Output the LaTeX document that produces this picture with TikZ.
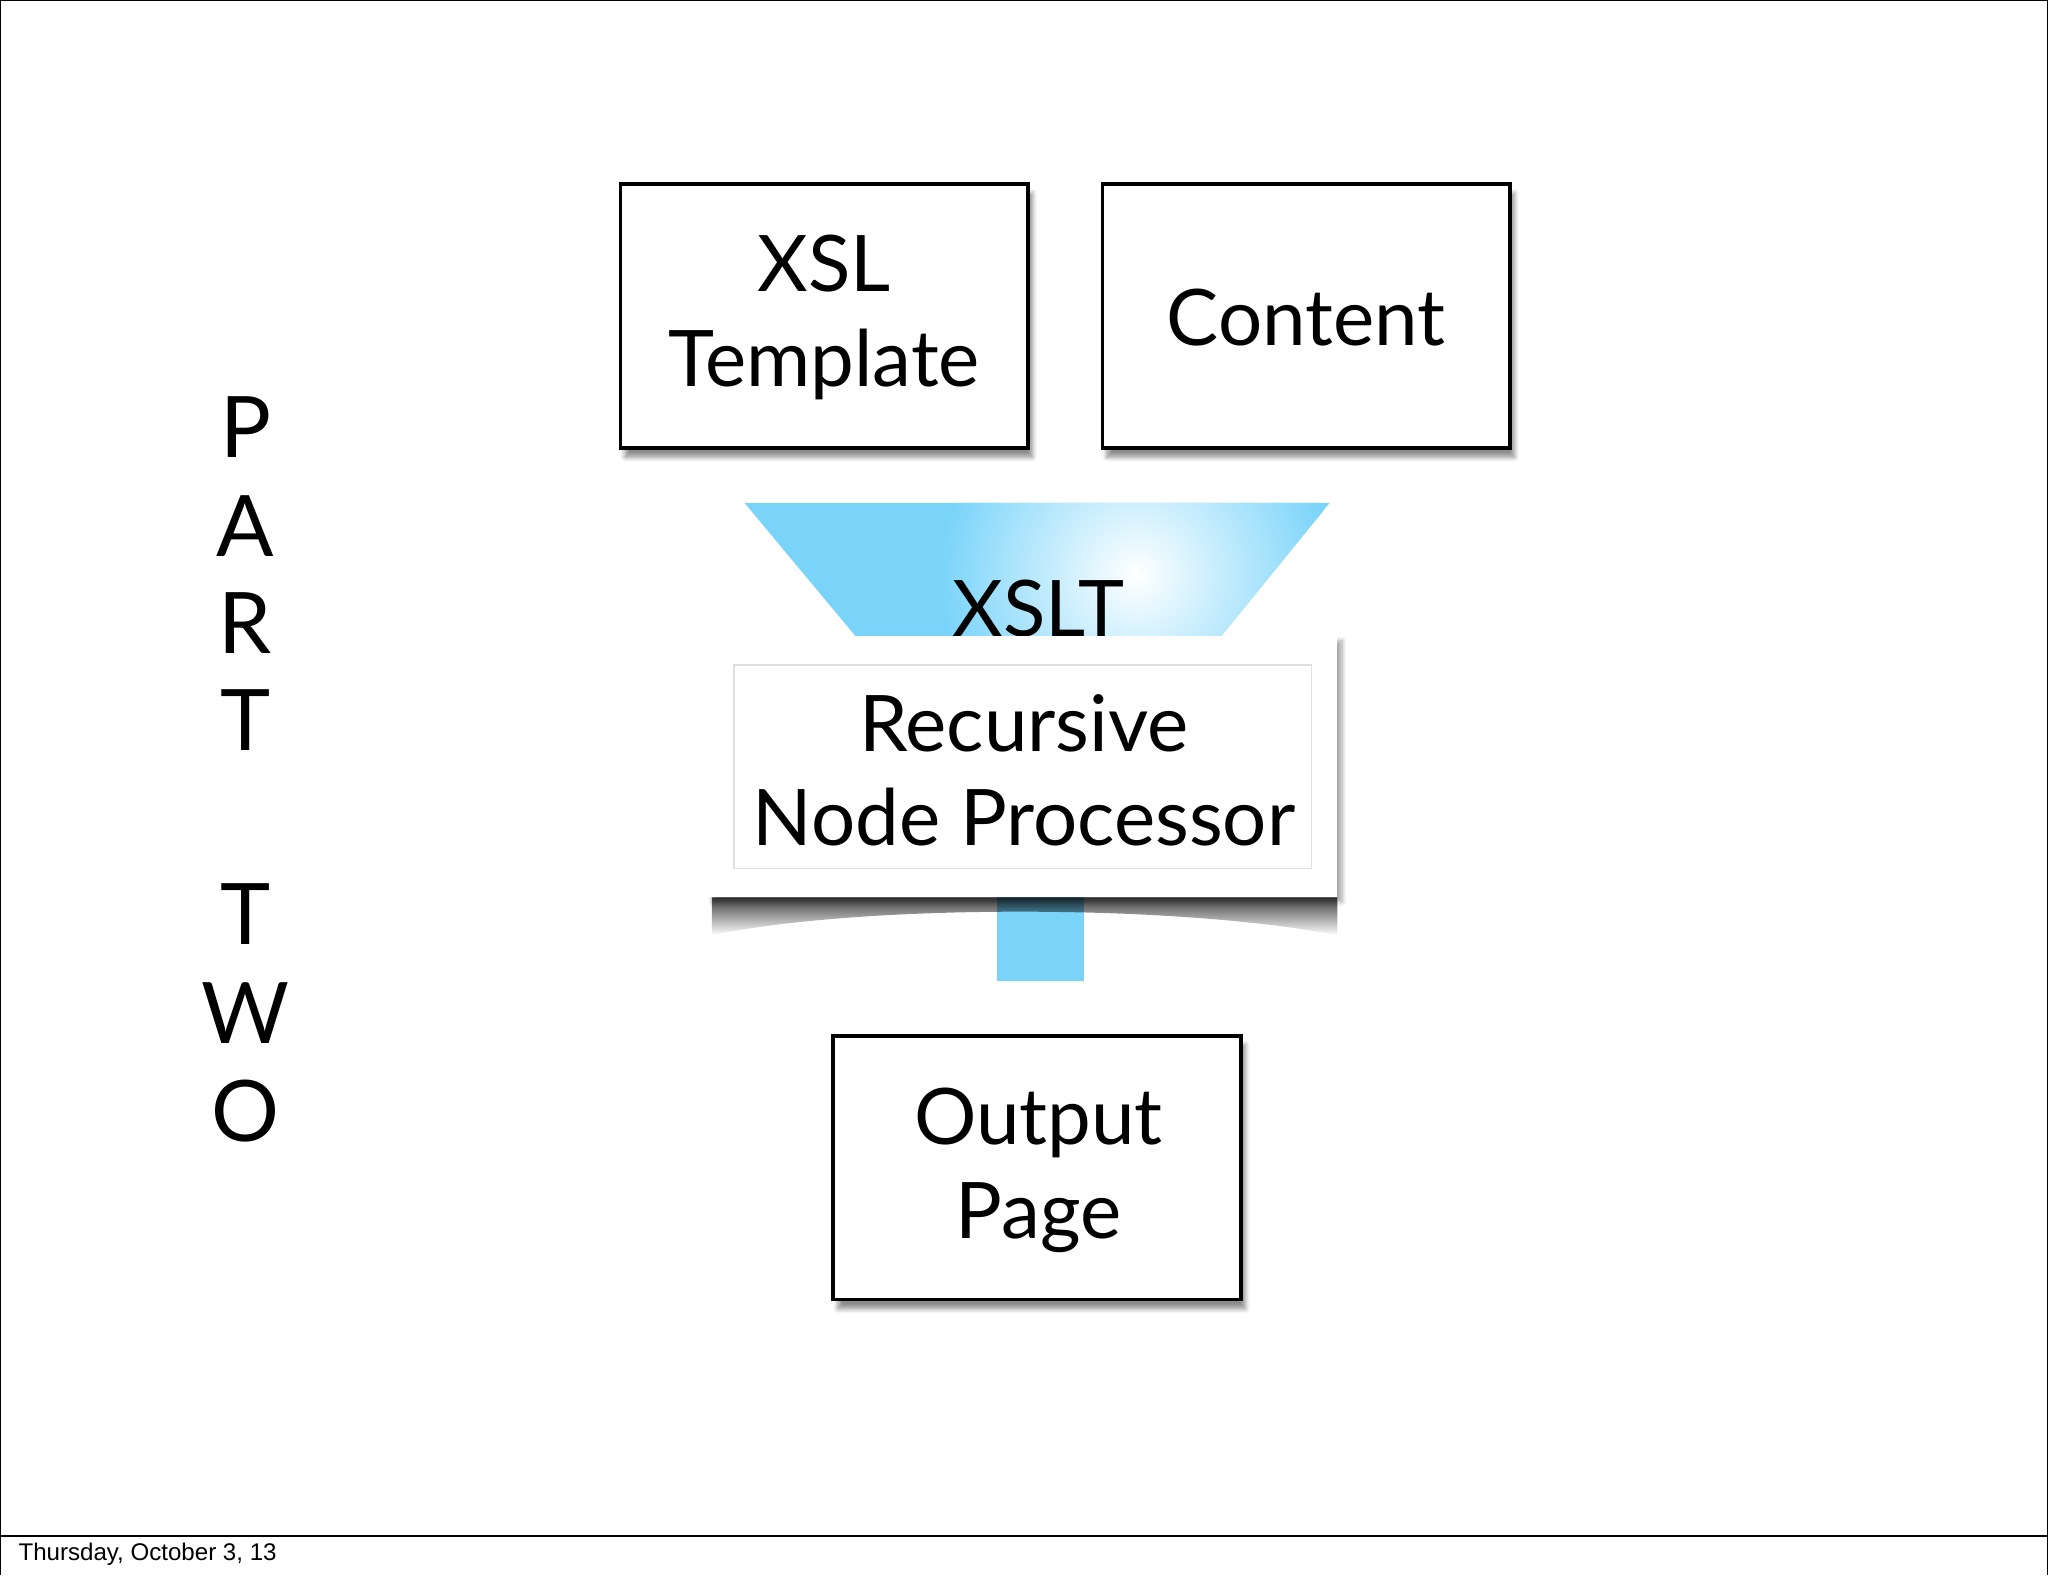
\documentclass[tikz,border=0pt]{standalone}
\usepackage{fontspec}
\setmainfont{Lato}
\newfontfamily\foot{Liberation Sans}
\usetikzlibrary{shadows,shadows.blur,fadings}
\definecolor{fblue}{HTML}{7AD4FA}
\begin{document}
\begin{tikzpicture}[x=0.02cm,y=-0.02cm,
  box/.style={draw=black,line width=1.6pt,fill=white,blur shadow={shadow xshift=2pt,shadow yshift=-4pt,shadow opacity=45,shadow blur steps=6}},
  big/.style={font=\fontsize{34}{41}\selectfont,align=center},
  let/.style={font=\fontsize{37}{40}\selectfont}]
\useasboundingbox (0,0) rectangle (1568,1206);
\draw[line width=0.8pt] (0,1206) -- (0,0) -- (1568,0) -- (1568,1206);
\draw[line width=0.8pt] (0,1176) -- (1568,1176);
\node[anchor=west,font=\foot\fontsize{10.5}{12}\selectfont] (foot) at (8,1190) {Thursday, October 3, 13};
% funnel
\fill[fblue] (570,385) -- (1018,385) -- (935,487) -- (655,487) -- cycle;
\begin{scope}
\clip (570,385) -- (1018,385) -- (935,487) -- (655,487) -- cycle;
\shade[inner color=white,outer color=fblue] (870,440) circle [radius=150];
\end{scope}
\fill[fblue] (763,680) rectangle (830,751);
\node[big] (xslt) at (795,466) {XSLT};
% boxes
\path[box] (475,141) rectangle (787,343);
\node[big] (xsl) at (631,243) {XSL\\Template};
\path[box] (844,141) rectangle (1156,343);
\node[big] (content) at (1000,243) {Content};
\fill[black,opacity=0.75,path fading=south] (545,687) -- (1024,687) -- (1024,716) .. controls (900,692) and (660,692) .. (545,716) -- cycle;
\path[fill=white,blur shadow={shadow xshift=2pt,shadow yshift=-2pt,shadow blur steps=8,shadow opacity=35}] (542,487) rectangle (1024,687);
\draw[black!12,line width=0.6pt] (562,509) rectangle (1004,665);
\node[big] (rec) at (784,590) {Recursive\\Node Processor};
\path[box] (638,793) rectangle (950,995);
\node[big] (out) at (795,896) {Output\\Page};
% part two
\foreach \l/\y/\n in {P/327/p1,A/403/p2,R/477/p3,T/551/p4,T/700/p5,W/776/p6,O/851/p7}
  \node[let] (\n) at (188,\y) {\l};
\end{tikzpicture}
\end{document}
